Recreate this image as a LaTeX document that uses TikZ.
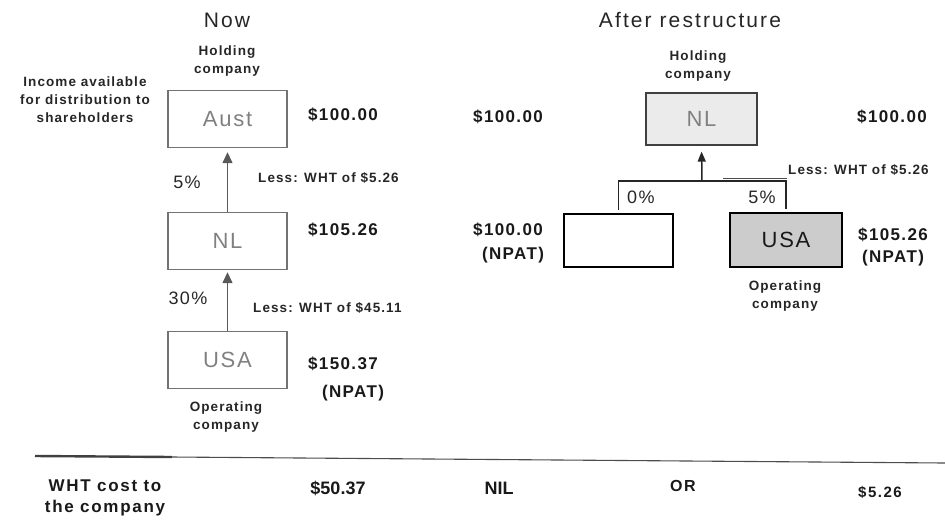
\documentclass[tikz,border=0pt]{standalone}
\usepackage{fontspec}
\setmainfont{Liberation Sans}
\newfontfamily\wideA[LetterSpace=8]{Liberation Sans}
\newfontfamily\wideB[LetterSpace=8]{Liberation Sans}
\newfontfamily\wideC[LetterSpace=10]{Liberation Sans}
\usetikzlibrary{arrows.meta}
\begin{document}
\begin{tikzpicture}[x=1pt,y=-1pt,
  lbl/.style={font=\wideA\bfseries\fontsize{13.5}{18}\selectfont, text=black!85, align=center, inner sep=0pt},
  money/.style={font=\wideB\bfseries\fontsize{17}{20}\selectfont, text=black!90, inner sep=0pt},
  less/.style={font=\wideA\bfseries\fontsize{13.5}{15}\selectfont, text=black!85, inner sep=0pt, anchor=west},
  title/.style={font=\wideC\fontsize{21}{25}\selectfont, text=black!85, inner sep=0pt},
  pct/.style={font=\wideB\fontsize{18}{22}\selectfont, text=black!85, inner sep=0pt},
  boxtxt/.style={font=\wideB\fontsize{22}{26}\selectfont, inner sep=0pt},
  graybox/.style={draw=black!55, line width=1.4pt, minimum width=119pt, minimum height=57pt, text=black!55},
  bottom/.style={font=\wideC\bfseries\fontsize{17}{21}\selectfont, text=black!90, inner sep=0pt, align=center},
  arr/.style={-{Triangle[width=10pt,length=11pt]}, line width=1.4pt},
]
\useasboundingbox (0,0) rectangle (945,523);

% ---------- Now ----------
\node[title] (now) at (227,20) {Now};
\node[lbl] (hold1) at (227,61) {Holding\\company};
\node[lbl] (income) at (85,100) {Income available\\for distribution to\\shareholders};

\node[graybox, boxtxt, text=black!50] (aust) at (227.5,119) {Aust};
\node[graybox, boxtxt, text=black!50] (nl1) at (227.5,241) {NL};
\node[graybox, boxtxt, text=black!50] (usa1) at (227.5,360) {USA};

\draw[arr, draw=black!65, fill=black!65, shorten >=4pt] (nl1.north) -- (aust.south);
\draw[arr, draw=black!65, fill=black!65, shorten >=2pt] (usa1.north) -- (nl1.south);

\node[money, anchor=west] (m1) at (308,115) {\$100.00};
\node[money, anchor=west] (m2) at (308,230) {\$105.26};
\node[money, anchor=west] (m3) at (308,364) {\$150.37};
\node[money] (m3b) at (353,393) {(NPAT)};

\node[pct] (p5) at (187,182) {5\%};
\node[pct] (p30) at (188,298) {30\%};
\node[less] (l1) at (258,178) {Less: WHT of \$5.26};
\node[less] (l2) at (253,308) {Less: WHT of \$45.11};

\node[lbl] (op1) at (226,417) {Operating\\company};

% ---------- After restructure ----------
\node[title] (after) at (690,20) {After restructure};
\node[lbl] (hold2) at (698,66) {Holding\\company};

\node[draw=black!75, line width=1.2pt, fill=black!8, minimum width=111pt, minimum height=52pt, boxtxt, text=black!50] (nl2) at (701.5,119) {NL};
\node[draw=black, line width=1.6pt, minimum width=109pt, minimum height=53pt] (empty) at (618.5,240.5) {};
\node[draw=black, line width=2.2pt, fill=black!20, minimum width=112pt, minimum height=54pt, boxtxt, text=black!90] (usa2) at (786,240) {USA};

\coordinate (bar) at (702,181);
\draw[line width=1.3pt, black!85, shorten <=3pt] (empty.north) |- (bar);
\draw[line width=1.3pt, black!85, shorten >=3pt] (bar) -| (usa2.north);
\draw[-{Triangle[width=8pt,length=10pt]}, line width=1.5pt, black!85, shorten >=6pt] (bar) -- (nl2.south);

\coordinate (lead1) at (723,178);
\coordinate (lead2) at (787,178);
\draw[line width=0.8pt, black!70] (lead1) -- (lead2);

\node[pct, anchor=west] (p0) at (627,197) {0\%};
\node[pct] (p5b) at (762,197) {5\%};
\node[less] (l3) at (788,170) {Less: WHT of \$5.26};

\node[money, anchor=west] (m4) at (473,117) {\$100.00};
\node[money, anchor=west] (m5) at (857,117) {\$100.00};
\node[money, anchor=west] (m6) at (473,230) {\$100.00};
\node[money] (m6b) at (513,255) {(NPAT)};
\node[money, anchor=west] (m7) at (858,235) {\$105.26};
\node[money] (m7b) at (893,258) {(NPAT)};

\node[lbl] (op2) at (785,296.5) {Operating\\company};

% ---------- Bottom ----------
\coordinate (b0) at (35,456);
\coordinate (b1) at (172,457);
\coordinate (b2) at (945,463);
\draw[line width=2.4pt, black!75] (b0) -- (b1);
\draw[line width=1.1pt, black!70] (b1) -- (b2);

\node[bottom] (wht) at (105,497.5) {WHT cost to\\the company};
\node[font=\bfseries\fontsize{18}{21}\selectfont, text=black!90, inner sep=0pt] (c1) at (338,488) {\$50.37};
\node[font=\bfseries\fontsize{18}{21}\selectfont, text=black!90, inner sep=0pt] (c2) at (499,488) {NIL};
\node[bottom, font=\wideC\bfseries\fontsize{16}{20}\selectfont] (c3) at (683,486) {OR};
\node[bottom, font=\wideC\bfseries\fontsize{15}{20}\selectfont] (c4) at (880,492) {\$5.26};
\end{tikzpicture}
\end{document}
